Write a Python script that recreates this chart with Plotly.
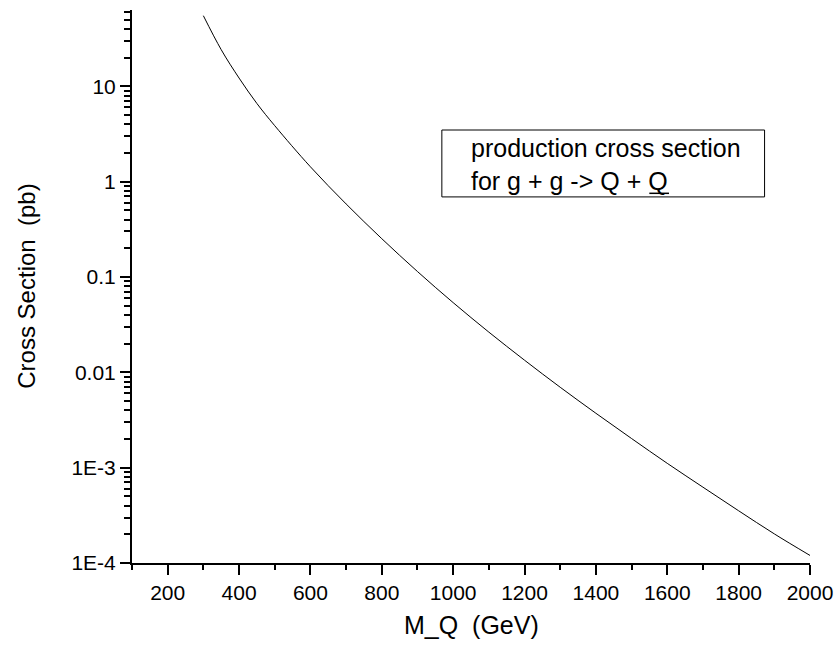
import plotly.graph_objects as go

# Data
mass_gev = [300, 350, 400, 450, 500, 600, 700, 800, 900, 1000, 1100, 1200,
            1300, 1400, 1500, 1600, 1700, 1800, 1900, 2000]
cross_section_pb = [55.0, 24.2, 12.2, 6.6, 3.86, 1.43, 0.583, 0.252, 0.114,
                    0.0538, 0.0264, 0.0134, 0.00697, 0.00372, 0.00202,
                    0.00111, 0.000624, 0.000353, 0.000202, 0.000120]

y_tickvals = [1e-4, 1e-3, 1e-2, 1e-1, 1, 10]
y_ticktext = ["1E-4", "1E-3", "0.01", "0.1", "1", "10"]
x_tickvals = [200, 400, 600, 800, 1000, 1200, 1400, 1600, 1800, 2000]

FONT = "Liberation Sans, Arial, sans-serif"

fig = go.Figure()
fig.add_trace(go.Scatter(
    x=mass_gev, y=cross_section_pb, mode="lines",
    line=dict(color="black", width=1, shape="spline", smoothing=1.0),
    showlegend=False, hoverinfo="skip"))

fig.update_layout(
    width=837, height=645,
    margin=dict(l=132, r=27, t=10, b=82, autoexpand=False),
    paper_bgcolor="white", plot_bgcolor="white",
    font=dict(family=FONT, color="black", size=21),
    xaxis=dict(
        range=[100, 2000], showgrid=False, zeroline=False,
        showline=True, linecolor="black", linewidth=2,
        tickmode="array", tickvals=x_tickvals,
        ticks="outside", ticklen=10, tickwidth=2, tickcolor="black",
        tickfont=dict(size=21, family=FONT),
        minor=dict(ticks="outside", ticklen=5, tickwidth=2, tickcolor="black",
                   dtick=100, tick0=100, showgrid=False),
    ),
    yaxis=dict(
        type="log", range=[-4, 1.8], showgrid=False, zeroline=False,
        showline=True, linecolor="black", linewidth=2,
        tickmode="array", tickvals=y_tickvals, ticktext=y_ticktext,
        ticks="outside", ticklen=10, tickwidth=2, tickcolor="black",
        tickfont=dict(size=21, family=FONT),
        minor=dict(ticks="outside", ticklen=6, tickwidth=2, tickcolor="black",
                   dtick="D1", showgrid=False),
    ),
)

# axis titles
fig.add_annotation(xref="paper", yref="paper", x=0.5, y=-0.112,
                   xanchor="center", yanchor="middle", showarrow=False,
                   text="M_Q  (GeV)", font=dict(size=25, family=FONT, color="black"))
fig.add_annotation(xref="paper", yref="paper", x=-0.156, y=0.5,
                   xanchor="center", yanchor="middle", showarrow=False, textangle=-90,
                   text="Cross Section  (pb)", font=dict(size=24, family=FONT, color="black"))

# legend-like text box
fig.add_shape(type="rect", xref="paper", yref="paper",
              x0=0.457, x1=0.933, y0=0.662, y1=0.783,
              line=dict(color="black", width=1), fillcolor="rgba(0,0,0,0)")
fig.add_annotation(xref="paper", yref="paper", x=0.497, y=0.7215,
                   xanchor="left", yanchor="middle", align="left", showarrow=False,
                   text="production cross section<br>for g + g -&gt; Q + Q",
                   font=dict(size=25, family=FONT, color="black"))
# underline beneath the anti-quark "Q"
fig.add_shape(type="line", xref="paper", yref="paper",
              x0=0.763, x1=0.792, y0=0.6685, y1=0.6685,
              line=dict(color="black", width=1.5))

fig.write_html(
    "out.html",
    config={"displayModeBar": False},
    post_script="document.body.style.margin='0';document.body.style.overflow='hidden';",
)
